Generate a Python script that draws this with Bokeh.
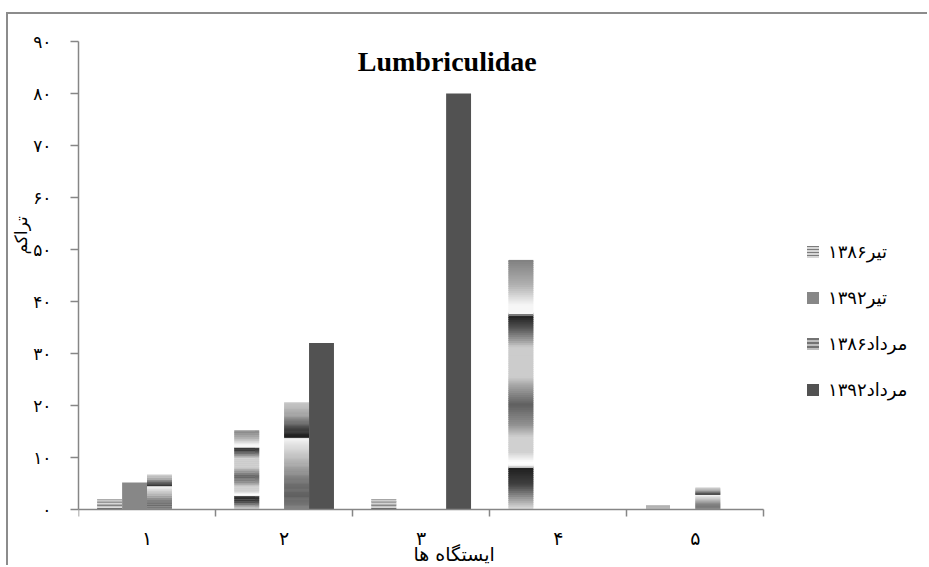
from bokeh.embed import file_html
from bokeh.models import (ColumnDataSource, FixedTicker, Label, Legend,
                          LegendItem, Range1d, Title)
from bokeh.plotting import figure
from bokeh.resources import INLINE

# ---- data -----------------------------------------------------------------
stations = ["۱", "۲", "۳", "۴", "۵"]
series_names = ["تیر۱۳۸۶", "تیر۱۳۹۲", "مرداد۱۳۸۶", "مرداد۱۳۹۲"]
tir_1386 = [2, 15.2, 2, 48, 0.8]
tir_1392 = [5.2, 0, 0, 0, 0]
mordad_1386 = [6.7, 20.6, 0, 0.3, 4.2]
mordad_1392 = [0, 32, 80, 0, 0]
y_ticks = [0, 10, 20, 30, 40, 50, 60, 70, 80, 90]
y_tick_labels = ["۰", "۱۰", "۲۰", "۳۰", "۴۰", "۵۰", "۶۰", "۷۰", "۸۰", "۹۰"]
title_text = "Lumbriculidae"
x_title = "ایستگاه ها"
y_title = "تراکم"

# ---- styling --------------------------------------------------------------
AXIS_GRAY = "#868686"
PERSIAN_FONT = "DejaVu Sans"
BAR_W = 1 / 5.5          # four bars plus a 150% gap per station
CANVAS_W, CANVAS_H = 921, 553
BORDER_L, BORDER_T = 68, 27
STATION_PX = 137.4       # width of one station slot on screen
UNIT_PX = 5.2            # screen pixels per unit of density
FRAME_W = CANVAS_W - BORDER_L
FRAME_H = CANVAS_H - BORDER_T
X_END = FRAME_W / STATION_PX          # plotting area runs on under the legend
Y_MAX = 90
Y_MIN = Y_MAX - FRAME_H / UNIT_PX     # room under the axis for its labels

# metallic gradient stops (position from bar bottom, gray level)
CHROME_A = [(0.00, 224), (0.05, 144), (0.10, 64), (0.165, 32), (0.172, 248),
            (0.19, 255), (0.23, 208), (0.29, 208), (0.34, 144), (0.42, 96),
            (0.50, 168), (0.53, 204), (0.65, 204), (0.675, 160), (0.73, 80),
            (0.775, 32), (0.785, 248), (0.82, 245), (0.90, 176), (1.00, 128)]
CHROME_B = [(0.00, 128), (0.125, 96), (0.25, 112), (0.44, 176), (0.60, 224),
            (0.665, 244), (0.672, 32), (0.69, 32), (0.75, 64), (0.875, 160),
            (1.00, 200)]


def gray_at(stops, t):
    for (p0, g0), (p1, g1) in zip(stops[:-1], stops[1:]):
        if p0 <= t <= p1:
            f = (t - p0) / (p1 - p0) if p1 > p0 else 0
            g = int(round(g0 + (g1 - g0) * f))
            return "#%02x%02x%02x" % (g, g, g)
    g = stops[-1][1]
    return "#%02x%02x%02x" % (g, g, g)


def bar_left(i, j):
    return i + 0.5 + (j - 2) * BAR_W


def gradient_bars(values, j, stops, n=120):
    cols = dict(left=[], right=[], bottom=[], top=[], color=[])
    for i, v in enumerate(values):
        if v <= 0:
            continue
        x0 = bar_left(i, j)
        for k in range(n):
            cols["left"].append(x0)
            cols["right"].append(x0 + BAR_W)
            cols["bottom"].append(v * k / n)
            cols["top"].append(min(v, v * (k + 1.6) / n))
            cols["color"].append(gray_at(stops, (k + 0.5) / n))
    return ColumnDataSource(cols)


def solid_bars(values, j):
    return ColumnDataSource(dict(
        left=[bar_left(i, j) for i in range(len(values))],
        right=[bar_left(i, j) + BAR_W for i in range(len(values))],
        top=list(values),
    ))


# ---- figure ---------------------------------------------------------------
p = figure(width=CANVAS_W, height=CANVAS_H, output_backend="svg",
           toolbar_location=None,
           x_range=Range1d(0, X_END), y_range=Range1d(Y_MIN, Y_MAX),
           min_border_left=BORDER_L, min_border_right=0,
           min_border_top=BORDER_T, min_border_bottom=0)
# chart-area border drawn around the canvas
p.styles = {"margin-left": "6px", "margin-top": "12px",
            "border-left": "2px solid #8c8c8c", "border-top": "2px solid #8c8c8c"}
p.outline_line_color = None
p.xgrid.visible = False
p.ygrid.visible = False
p.background_fill_color = "white"
p.border_fill_color = "white"

# bars
p.quad(left="left", right="right", bottom="bottom", top="top", color="color",
       line_color=None, source=gradient_bars(tir_1386, 0, CHROME_A))
p.quad(left="left", right="right", bottom=0, top="top", fill_color="#878787",
       line_color=None, source=solid_bars(tir_1392, 1))
p.quad(left="left", right="right", bottom="bottom", top="top", color="color",
       line_color=None, source=gradient_bars(mordad_1386, 2, CHROME_B))
p.quad(left="left", right="right", bottom=0, top="top", fill_color="#525252",
       line_color=None, source=solid_bars(mordad_1392, 3))

# axes
yax = p.yaxis[0]
yax.bounds = (0, Y_MAX)
yax.ticker = FixedTicker(ticks=y_ticks)
yax.major_label_overrides = {t: s for t, s in zip(y_ticks, y_tick_labels)}
yax.axis_line_color = AXIS_GRAY
yax.axis_line_width = 1.5
yax.major_tick_line_color = AXIS_GRAY
yax.major_tick_line_width = 1.5
yax.major_tick_out = 8
yax.major_tick_in = 0
yax.minor_tick_line_color = None
yax.major_label_standoff = 19
yax.major_label_text_font = PERSIAN_FONT
yax.major_label_text_font_size = "17px"
yax.major_label_text_color = "black"

xax = p.xaxis[0]
centers = [i + 0.5 for i in range(len(stations))]
xax.fixed_location = 0
xax.bounds = (0, len(stations))
xax.ticker = FixedTicker(ticks=centers, minor_ticks=list(range(len(stations) + 1)))
xax.major_label_overrides = {c: s for c, s in zip(centers, stations)}
xax.axis_line_color = AXIS_GRAY
xax.axis_line_width = 1.5
xax.major_tick_line_color = None
xax.major_tick_out = 0
xax.major_tick_in = 0
xax.minor_tick_line_color = AXIS_GRAY
xax.minor_tick_line_width = 1.5
xax.minor_tick_out = 7
xax.minor_tick_in = 0
xax.major_label_standoff = 10
xax.major_label_text_font = PERSIAN_FONT
xax.major_label_text_font_size = "19px"
xax.major_label_text_color = "black"

# axis titles
p.add_layout(Label(x=2.74, y=-8.6, text=x_title, text_align="center",
                   text_baseline="middle", text_font=PERSIAN_FONT,
                   text_font_size="19px", text_color="black"))
p.add_layout(Title(text=y_title, align="left", offset=313, standoff=0,
                   text_font=PERSIAN_FONT, text_font_style="normal",
                   text_font_size="17px", text_color="black"), "left")

# chart title, drawn over the plotting area
p.add_layout(Label(x=2.69, y=86.1, text=title_text, text_align="center",
                   text_baseline="alphabetic", text_font="Liberation Serif",
                   text_font_style="bold", text_font_size="28px",
                   text_color="black"))

# legend swatches (zero-size quads that only carry the swatch style)
def swatch_source():
    return ColumnDataSource(dict(left=[0], right=[0], bottom=[0], top=[0]))


leg1 = p.quad(left="left", right="right", bottom="bottom", top="top",
              source=swatch_source(), fill_color="#d6d6d6",
              line_color=None, hatch_pattern="horizontal_line",
              hatch_color="#7c7c7c", hatch_scale=3, hatch_weight=1)
leg2 = p.quad(left="left", right="right", bottom="bottom", top="top",
              source=swatch_source(), fill_color="#878787", line_color=None)
leg3 = p.quad(left="left", right="right", bottom="bottom", top="top",
              source=swatch_source(), fill_color="#bdbdbd",
              line_color=None, hatch_pattern="horizontal_line",
              hatch_color="#4a4a4a", hatch_scale=4, hatch_weight=1.3)
leg4 = p.quad(left="left", right="right", bottom="bottom", top="top",
              source=swatch_source(), fill_color="#525252", line_color=None)

legend = Legend(
    items=[LegendItem(label=name, renderers=[r])
           for name, r in zip(series_names, [leg1, leg2, leg3, leg4])],
    location=(727, 167), orientation="vertical",
    glyph_width=15, glyph_height=15, label_height=20, spacing=25,
    label_standoff=8, padding=0, margin=0,
    label_text_font=PERSIAN_FONT, label_text_font_size="18px",
    label_text_color="black",
    border_line_color=None, background_fill_alpha=0,
)
p.add_layout(legend, "center")

with open("out.html", "w") as f:
    f.write(file_html(p, INLINE))
